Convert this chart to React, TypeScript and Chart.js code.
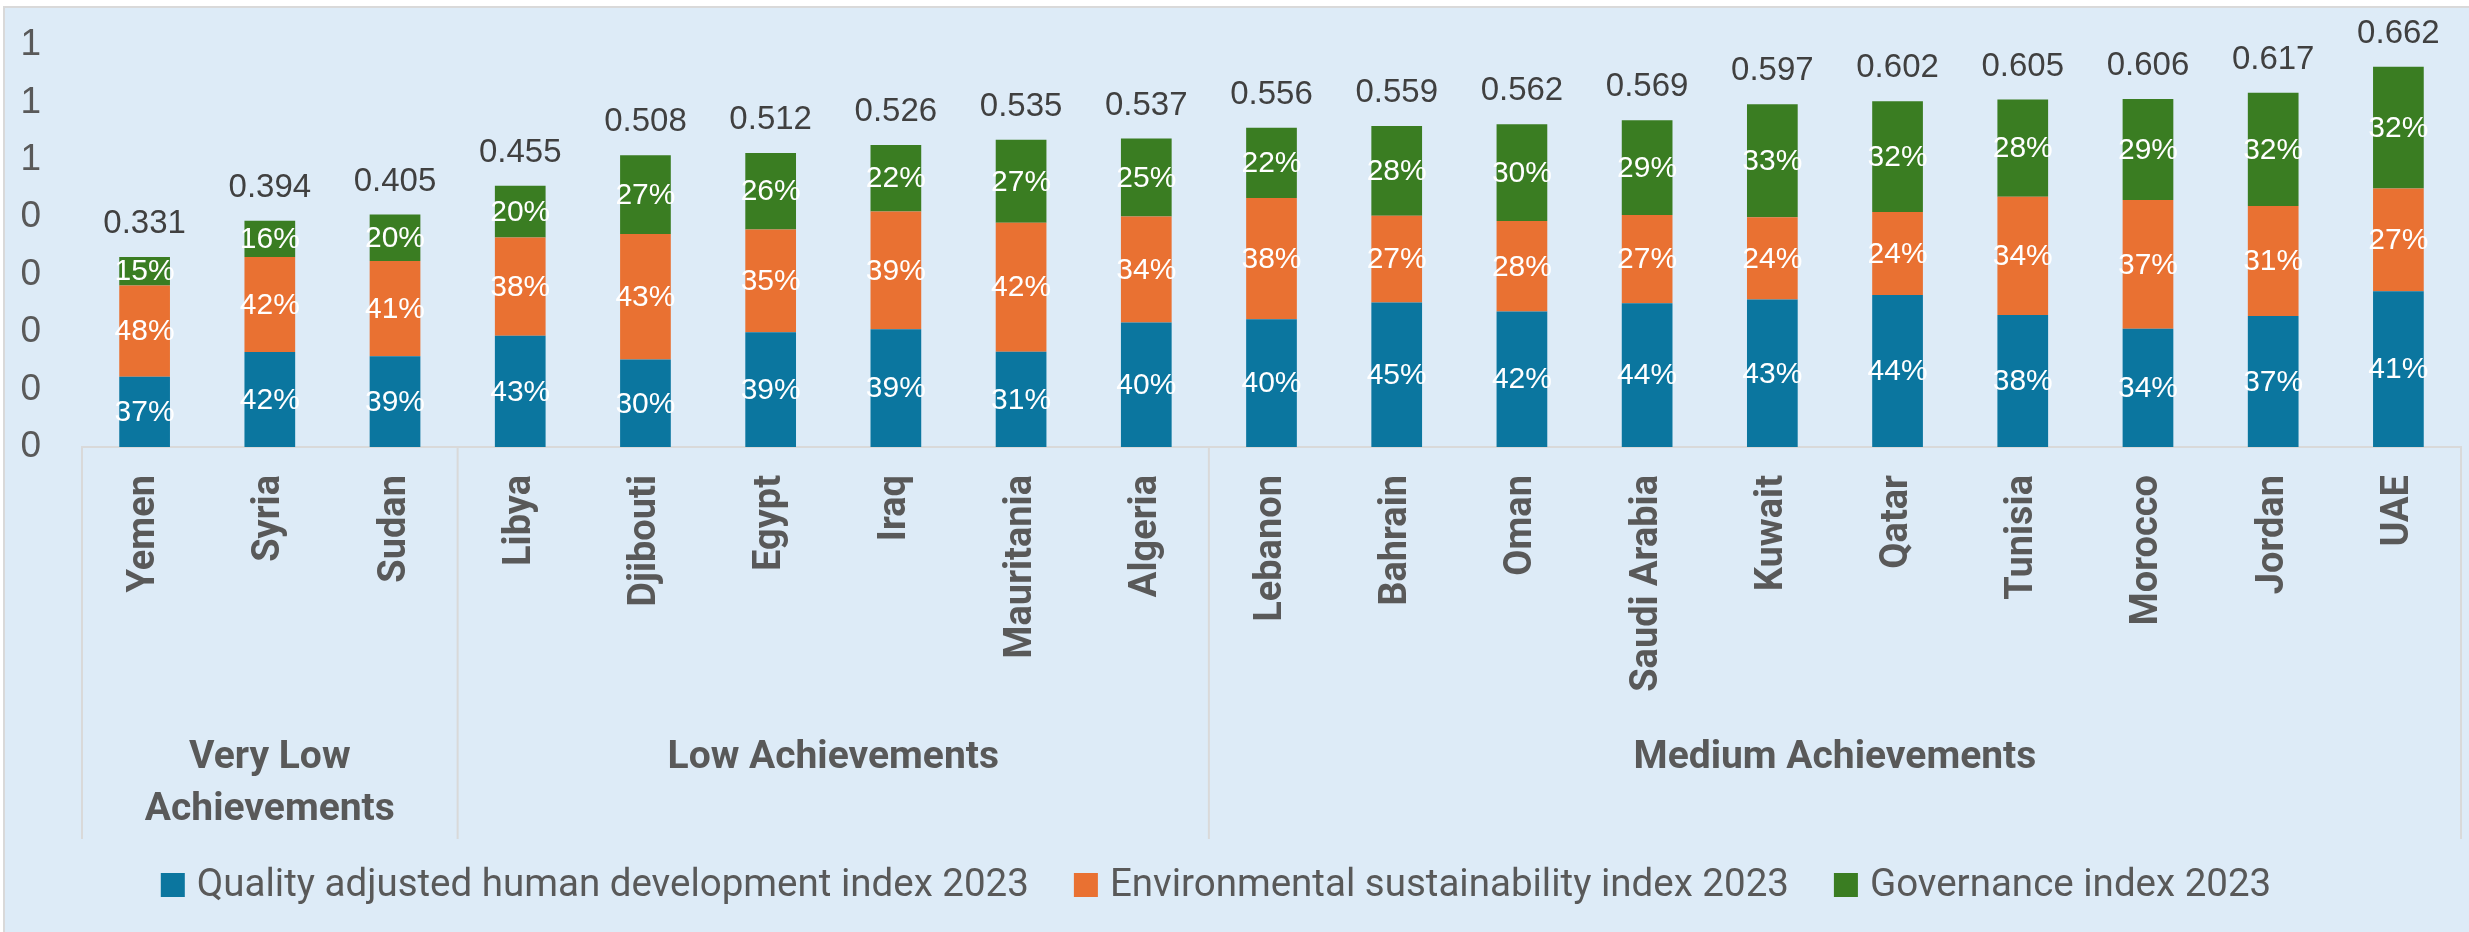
import React, { useEffect, useRef } from "react";
import { Chart, registerables } from "chart.js";

Chart.register(...registerables);

const countries = ["Yemen", "Syria", "Sudan", "Libya", "Djibouti", "Egypt", "Iraq", "Mauritania", "Algeria", "Lebanon", "Bahrain", "Oman", "Saudi Arabia", "Kuwait", "Qatar", "Tunisia", "Morocco", "Jordan", "UAE"];
const totals = [0.331, 0.394, 0.405, 0.455, 0.508, 0.512, 0.526, 0.535, 0.537, 0.556, 0.559, 0.562, 0.569, 0.597, 0.602, 0.605, 0.606, 0.617, 0.662];
const qhdiShare = [37, 42, 39, 43, 30, 39, 39, 31, 40, 40, 45, 42, 44, 43, 44, 38, 34, 37, 41];
const envShare = [48, 42, 41, 38, 43, 35, 39, 42, 34, 38, 27, 28, 27, 24, 24, 34, 37, 31, 27];
const govShare = [15, 16, 20, 20, 27, 26, 22, 27, 25, 22, 28, 30, 29, 33, 32, 28, 29, 32, 32];
const groupNames = [["Very Low", "Achievements"], ["Low Achievements"], ["Medium Achievements"]];
const groupSizes = [3, 6, 10];
const yTickLabels = ["0", "0", "0", "0", "0", "1", "1", "1"];
const seriesNames = ["Quality adjusted human development index 2023", "Environmental sustainability index 2023", "Governance index 2023"];
const seriesColors = ["#0B769F", "#E97132", "#3A7D22"];
const shares = [qhdiShare, envShare, govShare];

const W = 2464;
const H = 924;
const PLOT_TOP = 37;
const PLOT_BOTTOM = 439;

const segment = (s: number, i: number) => {
  const sum = qhdiShare[i] + envShare[i] + govShare[i];
  return (totals[i] * shares[s][i]) / sum;
};

const labelsPlugin = {
  id: "customLabels",
  afterDatasetsDraw(chart: any) {
    const ctx = chart.ctx;
    ctx.save();
    ctx.textAlign = "center";
    ctx.textBaseline = "middle";
    ctx.fillStyle = "#ffffff";
    ctx.font = '30px "Liberation Sans Narrow", "Liberation Sans"';
    chart.data.datasets.forEach((ds: any, di: number) => {
      const meta = chart.getDatasetMeta(di);
      meta.data.forEach((el: any, i: number) => {
        const yc = (el.y + el.base) / 2;
        ctx.fillText(shares[di][i] + "%", el.x, yc + 1);
      });
    });
    const last = chart.getDatasetMeta(chart.data.datasets.length - 1);
    ctx.fillStyle = "#404040";
    ctx.font = '33px "Liberation Sans"';
    last.data.forEach((el: any, i: number) => {
      ctx.fillText(totals[i].toFixed(3), el.x, el.y - 33);
    });
    ctx.restore();
  },
  afterDraw(chart: any) {
    const ctx = chart.ctx;
    const xs = chart.scales.x;
    const area = chart.chartArea;
    ctx.save();
    // group separators
    const bounds: number[] = [area.left];
    let idx = 0;
    groupSizes.forEach((n, g) => {
      idx += n;
      if (g < groupSizes.length - 1) {
        bounds.push((xs.getPixelForValue(idx - 1) + xs.getPixelForValue(idx)) / 2);
      }
    });
    bounds.push(area.right);
    ctx.strokeStyle = "#d9d9d9";
    ctx.lineWidth = 2;
    bounds.forEach((bx) => {
      ctx.beginPath();
      ctx.moveTo(bx, area.bottom);
      ctx.lineTo(bx, area.bottom + 392);
      ctx.stroke();
    });
    // group labels
    ctx.fillStyle = "#595959";
    ctx.font = 'bold 39px Roboto';
    ctx.textAlign = "center";
    ctx.textBaseline = "middle";
    groupNames.forEach((lines, g) => {
      const cx = (bounds[g] + bounds[g + 1]) / 2;
      lines.forEach((ln, k) => {
        ctx.fillText(ln, cx, area.bottom + 311 + k * 52);
      });
    });
    // legend
    ctx.font = '38.5px Roboto';
    ctx.textAlign = "left";
    const box = 24;
    const gapText = 12;
    const gapItem = 45;
    const widths = seriesNames.map((n) => ctx.measureText(n).width);
    const total = widths.reduce((a, w) => a + box + gapText + w, 0) + gapItem * (seriesNames.length - 1);
    let x = 1211 - total / 2;
    const ly = area.bottom + 438;
    seriesNames.forEach((n, i) => {
      ctx.fillStyle = chart.data.datasets[i].backgroundColor;
      ctx.fillRect(x, ly - box / 2, box, box);
      ctx.fillStyle = "#595959";
      ctx.fillText(n, x + box + gapText, ly + 1);
      x += box + gapText + widths[i] + gapItem;
    });
    ctx.restore();
  },
};

export default function App() {
  const ref = useRef<HTMLCanvasElement | null>(null);
  useEffect(() => {
    document.body.style.margin = "0";
    document.body.style.overflow = "hidden";
    const canvas = ref.current!;
    const chart = new Chart(canvas, {
      type: "bar",
      data: {
        labels: countries,
        datasets: seriesNames.map((name, s) => ({
          label: name,
          data: countries.map((_, i) => segment(s, i)),
          backgroundColor: seriesColors[s],
          borderWidth: 0,
          barPercentage: 0.405,
          categoryPercentage: 1,
        })),
      },
      options: {
        responsive: false,
        animation: false,
        events: [],
        layout: { padding: { top: PLOT_TOP, left: 0, right: 8, bottom: 0 } },
        plugins: { legend: { display: false }, tooltip: { enabled: false } },
        scales: {
          x: {
            stacked: true,
            grid: { display: false, drawTicks: false },
            border: { display: true, color: "#d9d9d9", width: 2 },
            ticks: {
              autoSkip: false,
              minRotation: 90,
              maxRotation: 90,
              padding: 28,
              color: "#595959",
              font: { family: "Roboto", weight: "bold", size: 38 },
            },
            afterFit: (s: any) => {
              s.height = H - PLOT_BOTTOM;
              s.paddingLeft = 0;
              s.paddingRight = 0;
            },
          },
          y: {
            stacked: true,
            min: 0,
            max: 0.7,
            grid: { display: false, drawTicks: false },
            border: { display: false },
            ticks: {
              stepSize: 0.1,
              padding: 41,
              color: "#595959",
              font: { family: "Liberation Sans", size: 37 },
              callback: (_v: any, i: number) => yTickLabels[i],
            },
            afterFit: (s: any) => {
              s.width = 77;
              s.paddingTop = 0;
              s.paddingBottom = 0;
            },
          },
        },
      },
      plugins: [labelsPlugin],
    });
    return () => chart.destroy();
  }, []);

  return (
    <div
      style={{
        position: "fixed",
        left: 3,
        top: 6,
        width: W,
        height: H,
        border: "2px solid #d9d9d9",
        background: "#DDEBF7",
        overflow: "hidden",
      }}
    >
      <canvas ref={ref} width={W} height={H} style={{ width: W, height: H, display: "block" }} />
    </div>
  );
}
